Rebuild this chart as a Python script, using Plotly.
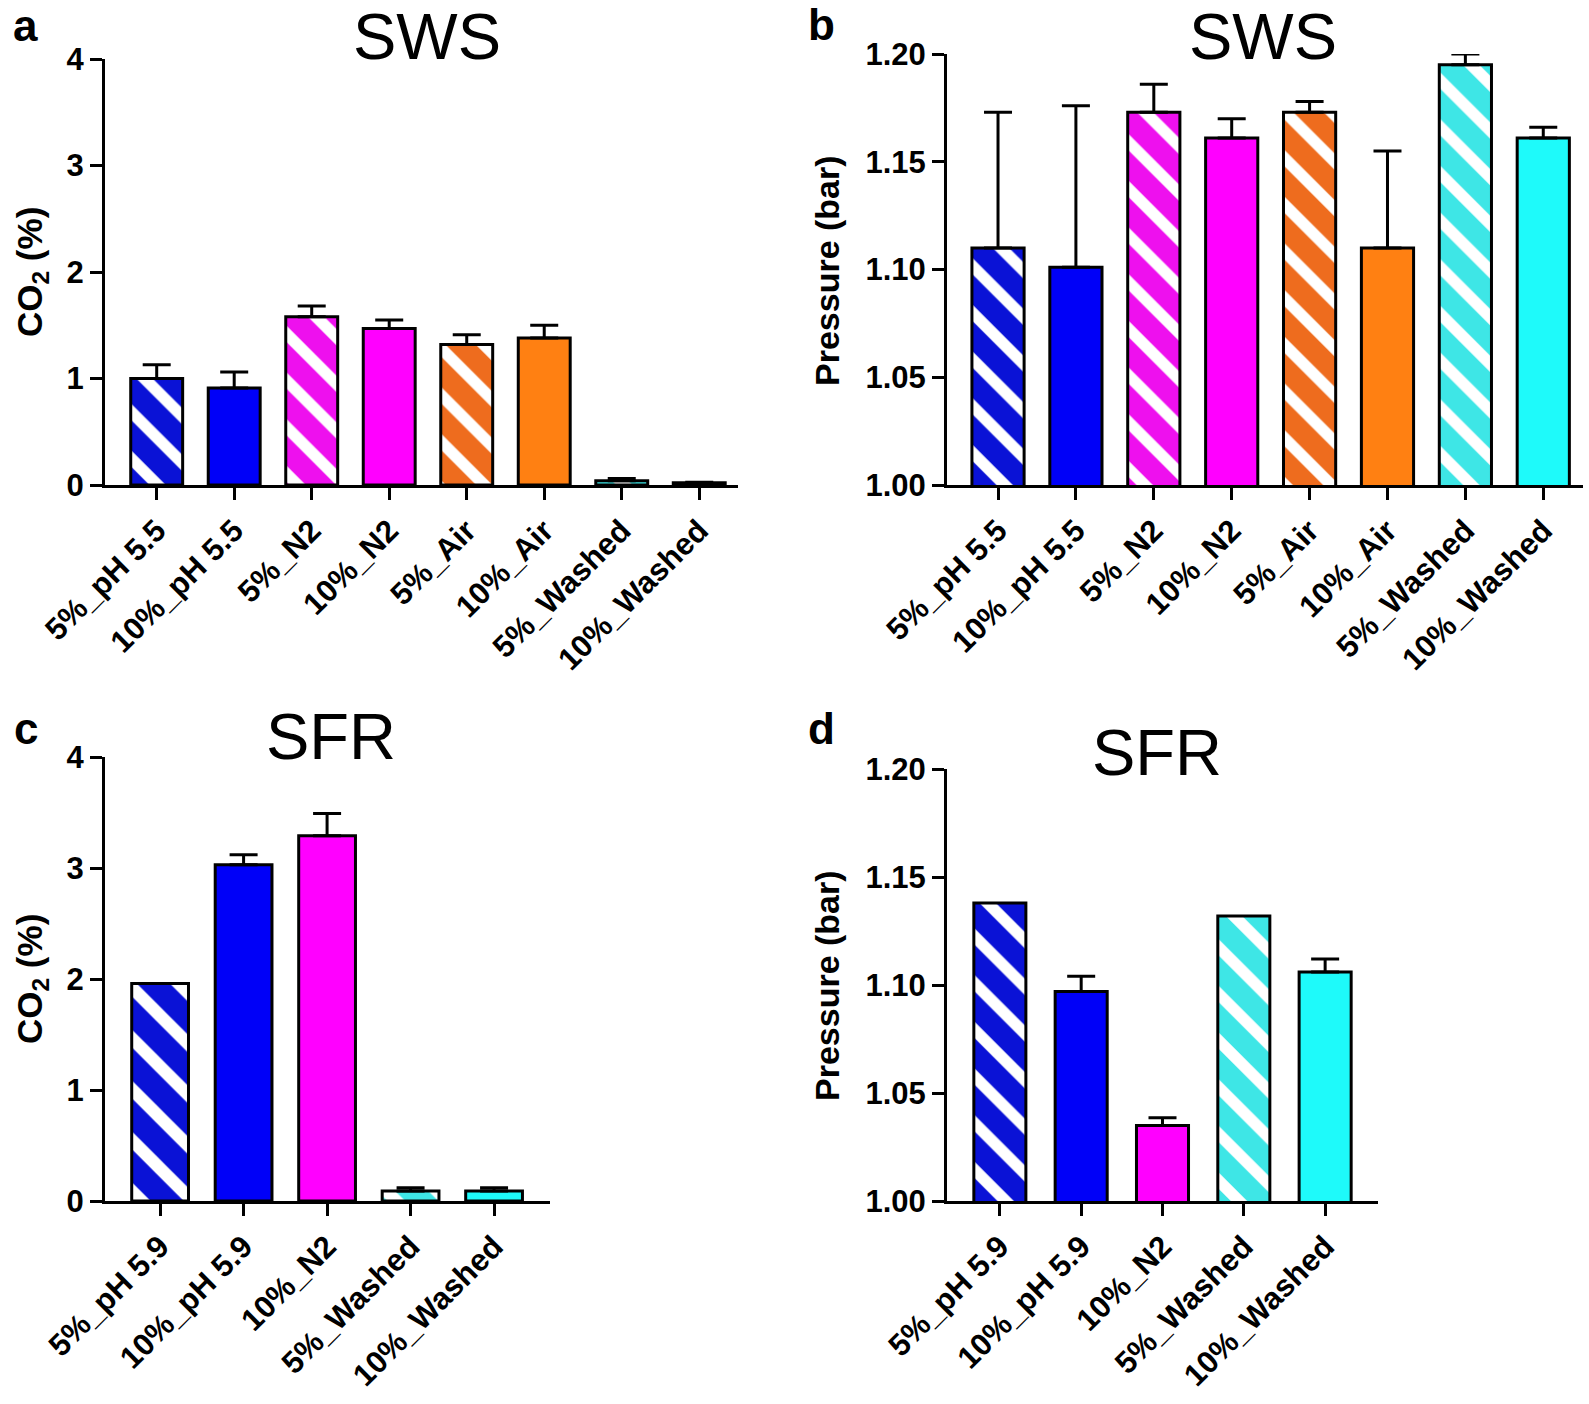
import plotly.graph_objects as go

# ---------------- data ----------------
cats_sws = ["5%_pH 5.5", "10%_pH 5.5", "5%_N2", "10%_N2", "5%_Air", "10%_Air", "5%_Washed", "10%_Washed"]
co2_sws = [1.00, 0.91, 1.58, 1.47, 1.32, 1.38, 0.04, 0.02]
co2_sws_err = [0.13, 0.15, 0.10, 0.08, 0.09, 0.12, 0.02, 0.005]
p_sws = [1.110, 1.101, 1.173, 1.161, 1.173, 1.110, 1.195, 1.161]
p_sws_err = [0.063, 0.075, 0.013, 0.009, 0.005, 0.045, 0.005, 0.005]

cats_sfr = ["5%_pH 5.9", "10%_pH 5.9", "10%_N2", "5%_Washed", "10%_Washed"]
co2_sfr = [1.96, 3.03, 3.29, 0.09, 0.09]
co2_sfr_err = [0.0, 0.09, 0.20, 0.03, 0.03]
p_sfr = [1.138, 1.097, 1.035, 1.132, 1.106]
p_sfr_err = [0.0, 0.007, 0.0035, 0.0, 0.006]

# styles
BLUE_H, BLUE = "#0A12D6", "#0000F8"
MAG_H, MAG = "#EE10EE", "#FF00FF"
ORG_H, ORG = "#EE6C1E", "#FF8012"
CYA_H, CYA = "#3EE6E6", "#1EFAFA"
colors_sws = [BLUE_H, BLUE, MAG_H, MAG, ORG_H, ORG, CYA_H, CYA]
hatch_sws = [True, False, True, False, True, False, True, False]
colors_sfr = [BLUE_H, BLUE, MAG, CYA_H, CYA]
hatch_sfr = [True, False, False, True, False]

W, H = 1589, 1404
FONT = "Liberation Sans, Arial, sans-serif"


def px_x(a, b):
    return [a / W, b / W]


def px_y(top, bottom):
    return [1 - bottom / H, 1 - top / H]


fig = go.Figure()


def add_bars(cats, vals, errs, cols, hatch, width, xa, ya, psize):
    for i, (c, v, e, col, h) in enumerate(zip(cats, vals, errs, cols, hatch)):
        pattern = (dict(shape="\\", fgcolor="white", fillmode="overlay", fgopacity=1,
                        size=psize, solidity=0.35) if h else dict(shape=""))
        fig.add_trace(go.Bar(
            x=[i], y=[v], width=width, name=c,
            marker=dict(color=col, line=dict(color="black", width=3), pattern=pattern),
            error_y=dict(type="data", array=[e], arrayminus=[0], symmetric=False,
                         color="black", thickness=3, width=14, visible=e > 0),
            xaxis=xa, yaxis=ya, showlegend=False,
        ))


add_bars(cats_sws, co2_sws, co2_sws_err, colors_sws, hatch_sws, 0.67, "x", "y", 33)
add_bars(cats_sws, p_sws, p_sws_err, colors_sws, hatch_sws, 0.67, "x2", "y2", 33)
add_bars(cats_sfr, co2_sfr, co2_sfr_err, colors_sfr, hatch_sfr, 0.68, "x3", "y3", 36)
add_bars(cats_sfr, p_sfr, p_sfr_err, colors_sfr, hatch_sfr, 0.64, "x4", "y4", 33)

tickfont = dict(family=FONT, size=31, color="black", weight="bold")
common = dict(showline=True, linecolor="black", linewidth=3, ticks="outside", ticklen=12,
              tickwidth=3, tickcolor="black", showgrid=False, zeroline=False,
              tickfont=tickfont, fixedrange=True, automargin=False)


def xax(domain, cats, rng, anchor):
    return dict(domain=domain, range=rng, tickmode="array", tickvals=list(range(len(cats))),
                ticktext=cats, tickangle=-45, anchor=anchor, **common)


def yax(domain, rng, dtick, fmt, anchor):
    return dict(domain=domain, range=rng, tickmode="linear", tick0=rng[0], dtick=dtick,
                tickformat=fmt, anchor=anchor, **common)


fig.update_layout(
    template="none", barmode="overlay",
    width=W, height=H, margin=dict(l=0, r=0, t=0, b=0, autoexpand=False),
    paper_bgcolor="white", plot_bgcolor="white",
    xaxis=xax(px_x(105, 738), cats_sws, [-0.667, 7.5], "y"),
    yaxis=yax(px_y(59, 485), [0, 4], 1, "d", "x"),
    xaxis2=xax(px_x(947, 1583), cats_sws, [-0.655, 7.51], "y2"),
    yaxis2=yax(px_y(54, 485), [1.0, 1.2], 0.05, ".2f", "x2"),
    xaxis3=xax(px_x(105, 550), cats_sfr, [-0.66, 4.67], "y3"),
    yaxis3=yax(px_y(757, 1201), [0, 4], 1, "d", "x3"),
    xaxis4=xax(px_x(947, 1378), cats_sfr, [-0.65, 4.65], "y4"),
    yaxis4=yax(px_y(769, 1201), [1.0, 1.2], 0.05, ".2f", "x4"),
)


def ann(text, x, y, size, bold=False, angle=0):
    fig.add_annotation(text=text, x=x / W, y=1 - y / H, xref="paper", yref="paper",
                       showarrow=False, textangle=angle, xanchor="center", yanchor="middle",
                       font=dict(family=FONT, size=size, color="black",
                                 weight="bold" if bold else "normal"))


# panel letters
ann("a", 26, 25, 44, bold=True)
ann("b", 821, 24, 44, bold=True)
ann("c", 26, 728, 44, bold=True)
ann("d", 821, 728, 44, bold=True)
# panel titles
ann("SWS", 427, 37, 65)
ann("SWS", 1263, 36, 65)
ann("SFR", 331, 736, 65)
ann("SFR", 1157, 752, 65)
# axis titles
ann("CO<sub>2</sub> (%)", 32, 272, 35, bold=True, angle=-90)
ann("Pressure (bar)", 827, 270, 34, bold=True, angle=-90)
ann("CO<sub>2</sub> (%)", 32, 979, 35, bold=True, angle=-90)
ann("Pressure (bar)", 827, 985, 34, bold=True, angle=-90)

fig.write_html("out.html",
               config={"displayModeBar": False, "staticPlot": True},
               post_script="document.body.style.margin='0';document.body.style.overflow='hidden';")
